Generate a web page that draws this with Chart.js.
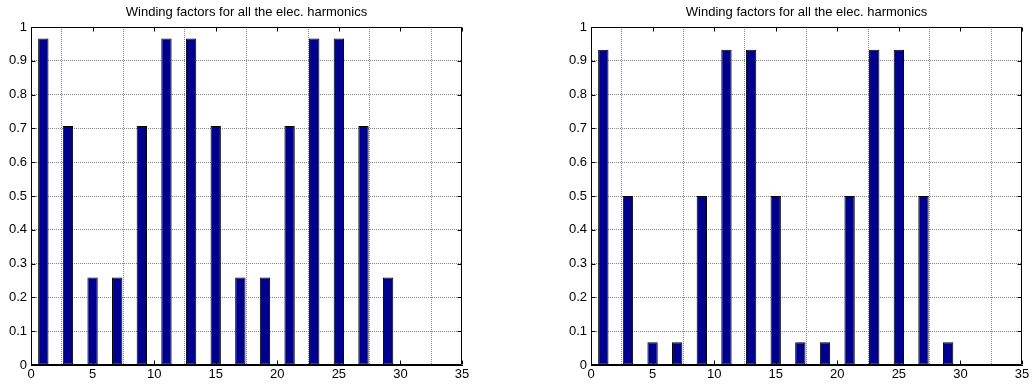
<!DOCTYPE html>
<html>
<head>
<meta charset="utf-8">
<script src="https://cdn.jsdelivr.net/npm/chart.js@4/dist/chart.umd.min.js"></script>
<style>
  html, body { margin: 0; padding: 0; background: #fff; }
  #wrap { position: relative; width: 1032px; height: 385px; }
  .box { position: absolute; top: 0; width: 516px; height: 385px; }
  #b1 { left: 0; }
  #b2 { left: 516px; }
</style>
</head>
<body>
<div id="wrap">
  <div class="box" id="b1"><canvas id="c1"></canvas></div>
  <div class="box" id="b2"><canvas id="c2"></canvas></div>
</div>
<script>
const titleText = 'Winding factors for all the elec. harmonics';
const harmonics = [1, 2, 3, 4, 5, 6, 7, 8, 9, 10, 11, 12, 13, 14, 15, 16, 17, 18, 19, 20, 21, 22, 23, 24, 25, 26, 27, 28, 29, 30];
const leftValues = [0.966, 0, 0.707, 0, 0.259, 0, 0.259, 0, 0.707, 0, 0.966, 0, 0.966, 0, 0.707, 0, 0.259, 0, 0.259, 0, 0.707, 0, 0.966, 0, 0.966, 0, 0.707, 0, 0.259, 0];
const rightValues = [0.933, 0, 0.5, 0, 0.067, 0, 0.067, 0.002, 0.5, 0.002, 0.933, 0, 0.933, 0, 0.5, 0, 0.067, 0, 0.067, 0.002, 0.5, 0.002, 0.933, 0, 0.933, 0, 0.5, 0, 0.067, 0];
const xTicks = [0, 5, 10, 15, 20, 25, 30, 35];
const yTicks = [0, 0.1, 0.2, 0.3, 0.4, 0.5, 0.6, 0.7, 0.8, 0.9, 1];

const FONT = "'Liberation Sans', Arial, Helvetica, sans-serif";

const boxPlugin = {
  id: 'matlabBox',
  afterDatasetsDraw(chart) {
    const { ctx, chartArea: a, scales } = chart;
    const L = Math.round(a.left) + 0.5, R = Math.round(a.right) - 0.5;
    const T = Math.round(a.top) + 0.5, B = Math.round(a.bottom) - 0.5;
    ctx.save();
    ctx.strokeStyle = '#000';
    ctx.lineWidth = 1;
    ctx.setLineDash([]);
    ctx.beginPath();
    ctx.rect(L, T, R - L, B - T);
    xTicks.forEach(v => {
      const x = Math.round(scales.x.getPixelForValue(v)) + 0.5;
      ctx.moveTo(x, B); ctx.lineTo(x, B - 4);
      ctx.moveTo(x, T); ctx.lineTo(x, T + 4);
    });
    yTicks.forEach(v => {
      const y = Math.round(scales.y.getPixelForValue(v)) + 0.5;
      ctx.moveTo(L, y); ctx.lineTo(L + 4, y);
      ctx.moveTo(R, y); ctx.lineTo(R - 4, y);
    });
    ctx.stroke();
    ctx.restore();
  }
};

function makeChart(id, values, yWidth, padRight) {
  const pts = harmonics.map((h, i) => ({ x: h, y: values[i] }));
  return new Chart(document.getElementById(id), {
    type: 'bar',
    data: {
      datasets: [{
        data: pts,
        backgroundColor: 'rgb(0,0,143)',
        borderColor: '#000',
        borderWidth: 1,
        borderSkipped: false,
        categoryPercentage: 1,
        barPercentage: 0.84
      }]
    },
    options: {
      responsive: true,
      maintainAspectRatio: false,
      animation: false,
      devicePixelRatio: 1,
      layout: { padding: { left: 0, right: padRight, top: 0, bottom: 0 } },
      plugins: {
        legend: { display: false },
        tooltip: { enabled: false },
        title: {
          display: true,
          text: titleText,
          fullSize: false,
          color: '#000',
          font: { family: FONT, size: 13, weight: 'normal', lineHeight: 1 },
          padding: { top: 6, bottom: 8 }
        }
      },
      scales: {
        x: {
          type: 'linear',
          min: 0, max: 35,
          offset: false,
          afterBuildTicks: s => { s.ticks = xTicks.map(v => ({ value: v })); },
          afterFit: s => { s.height = 20; },
          ticks: { color: '#000', font: { family: FONT, size: 13 }, padding: 2, maxRotation: 0, autoSkip: false },
          grid: { color: '#888', lineWidth: 1, drawTicks: false },
          border: { display: true, color: '#000', dash: [1, 1] }
        },
        y: {
          type: 'linear',
          min: 0, max: 1,
          afterBuildTicks: s => { s.ticks = yTicks.map(v => ({ value: v })); },
          afterFit: s => { s.width = yWidth; },
          ticks: { color: '#000', font: { family: FONT, size: 13 }, padding: 4, callback: v => String(Math.round(v * 10) / 10) },
          grid: { color: '#888', lineWidth: 1, drawTicks: false },
          border: { display: true, color: '#000', dash: [1, 1] }
        }
      }
    },
    plugins: [boxPlugin]
  });
}

makeChart('c1', leftValues, 31, 54);
makeChart('c2', rightValues, 75, 10);
</script>
</body>
</html>
